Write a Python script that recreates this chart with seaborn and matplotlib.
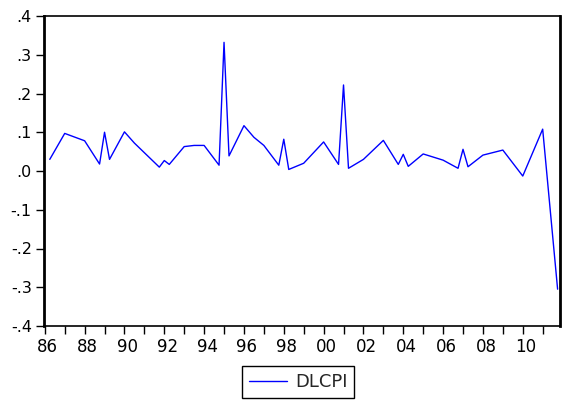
import pandas as pd
import numpy as np
import matplotlib
matplotlib.use("Agg")
import matplotlib.pyplot as plt
import matplotlib.transforms as mtransforms
import seaborn as sns

quarters = ["1986Q2", "1987Q1", "1988Q1", "1988Q4", "1989Q1", "1989Q2", "1990Q1", "1990Q3",
            "1991Q4", "1992Q1", "1992Q2", "1993Q1", "1993Q3", "1994Q1", "1994Q4", "1995Q1",
            "1995Q2", "1996Q1", "1996Q3", "1997Q1", "1997Q4", "1998Q1", "1998Q2", "1999Q1",
            "2000Q1", "2000Q4", "2001Q1", "2001Q2", "2002Q1", "2003Q1", "2003Q4", "2004Q1",
            "2004Q2", "2005Q1", "2006Q1", "2006Q4", "2007Q1", "2007Q2", "2008Q1", "2009Q1",
            "2010Q1", "2011Q1", "2011Q4"]
dlcpi = [0.030, 0.097, 0.078, 0.018, 0.100, 0.030, 0.101, 0.072,
         0.010, 0.027, 0.017, 0.063, 0.066, 0.066, 0.015, 0.332,
         0.039, 0.117, 0.087, 0.066, 0.015, 0.082, 0.004, 0.020,
         0.075, 0.017, 0.222, 0.007, 0.030, 0.079, 0.017, 0.043,
         0.012, 0.044, 0.028, 0.007, 0.056, 0.011, 0.041, 0.054,
         -0.013, 0.108, -0.305]

y_ticks = [0.4, 0.3, 0.2, 0.1, 0.0, -0.1, -0.2, -0.3, -0.4]
y_labels = [".4", ".3", ".2", ".1", ".0", "-.1", "-.2", "-.3", "-.4"]
x_years = list(range(1986, 2011, 2))
x_labels = ["86", "88", "90", "92", "94", "96", "98", "00", "02", "04", "06", "08", "10"]

p = pd.PeriodIndex(quarters, freq="Q")
df = pd.DataFrame({"t": p.year + (p.quarter - 1) / 4, "DLCPI": dlcpi})

sns.set_style("white")
plt.rcParams["font.family"] = ["DejaVu Sans"]

fig = plt.figure(figsize=(5.65, 4.04), dpi=100)
ax = fig.add_axes([44 / 565, 1 - 326 / 404, 516 / 565, 310 / 404])

sns.lineplot(data=df, x="t", y="DLCPI", color="#0000ff", linewidth=1.0, ax=ax, label="DLCPI", legend=False)

ax.set_xlim(1986 - 0.04, 2011.87)
ax.set_ylim(-0.4, 0.4)
ax.set_xticks(x_years)
ax.set_xticklabels(x_labels)
ax.set_xticks(range(1987, 2012, 2), minor=True)
ax.set_yticks(y_ticks)
ax.set_yticklabels(y_labels)
ax.set_xlabel("")
ax.set_ylabel("")

ax.tick_params(axis="both", which="both", direction="out", length=5.8, width=1.0,
               color="black", labelcolor="black")
ax.tick_params(axis="x", which="both", bottom=True, pad=2.5, labelsize=12)
ax.tick_params(axis="y", left=True, pad=3, labelsize=11.5)

# EViews puts the year labels a little right of their tick
shift = mtransforms.ScaledTranslation(3 / 100, 0, fig.dpi_scale_trans)
for lab in ax.get_xticklabels():
    lab.set_transform(lab.get_transform() + shift)

for side in ["left", "right"]:
    ax.spines[side].set_linewidth(2.0)
for side in ["top", "bottom"]:
    ax.spines[side].set_linewidth(1.2)
for s in ax.spines.values():
    s.set_color("black")
    s.set_visible(True)

h, l = ax.get_legend_handles_labels()
leg = fig.legend(h, l, loc="center", bbox_to_anchor=(298 / 565, 1 - 382 / 404),
                 frameon=True, fancybox=False, fontsize=13, handlelength=2.1,
                 handletextpad=0.45, borderpad=0.4, edgecolor="black", framealpha=1)
leg.get_frame().set_linewidth(1.0)

fig.savefig("out.png", dpi=100)
